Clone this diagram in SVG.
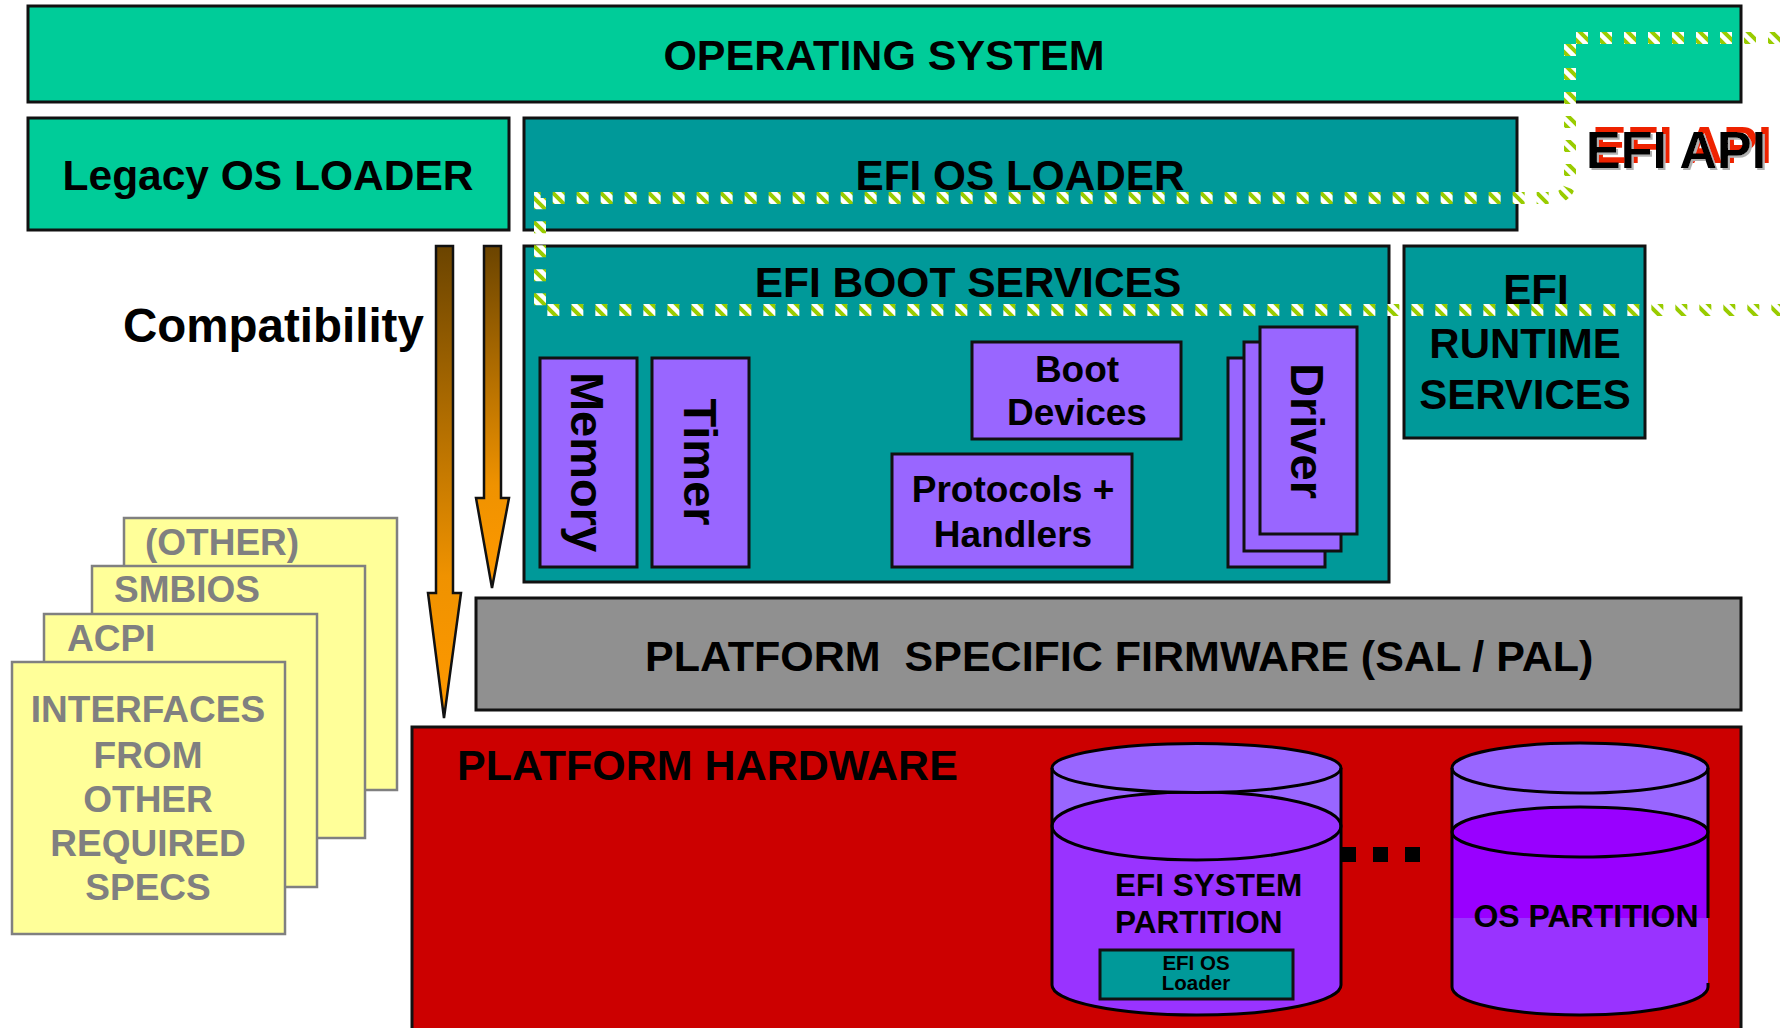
<svg xmlns="http://www.w3.org/2000/svg" width="1780" height="1028" viewBox="0 0 1780 1028">
<defs>
<style>
.t{font-family:"Liberation Sans",Arial,sans-serif;font-weight:bold;fill:#000}
.box{stroke:#111;stroke-width:3}
.green{fill:#00cc99}
.teal{fill:#009999}
.purple{fill:#9966ff}
.yel{fill:#ffff99;stroke:#808080;stroke-width:2.5}
.yt{font-family:"Liberation Sans",Arial,sans-serif;font-weight:bold;fill:#808080;font-size:37px}
.arrow{stroke:#111;stroke-width:2.5}
.cyl{stroke:#000;stroke-width:3}
</style>
<linearGradient id="arrGrad" x1="0" y1="0" x2="0" y2="1">
<stop offset="0" stop-color="#6b4400"/>
<stop offset="0.7" stop-color="#ef9200"/>
<stop offset="1" stop-color="#ff9900"/>
</linearGradient>
<pattern id="stripe" patternUnits="userSpaceOnUse" width="12" height="12">
<rect width="12" height="12" fill="#ffffff"/>
<path d="M0,0 L12,12 M-6,6 L6,18 M6,-6 L18,6" stroke="#99cc00" stroke-width="4"/>
</pattern>
<filter id="apiShadow" x="-10%" y="-40%" width="130%" height="180%">
<feFlood flood-color="#ee2200"/>
<feComposite in2="SourceAlpha" operator="in"/>
<feOffset dx="6" dy="-5" result="red"/>
<feFlood flood-color="#b0b0b0"/>
<feComposite in2="SourceAlpha" operator="in"/>
<feOffset dx="2" dy="2" result="gray"/>
<feMerge><feMergeNode in="red"/><feMergeNode in="gray"/><feMergeNode in="SourceGraphic"/></feMerge>
</filter>
</defs>
<rect width="1780" height="1028" fill="#ffffff"/>

<g id="operating-system">
<rect class="box green" x="28" y="6" width="1713" height="96"/>
<text class="t" x="884" y="70" font-size="43" text-anchor="middle">OPERATING SYSTEM</text>
</g>

<g id="legacy-os-loader">
<rect class="box green" x="28" y="118" width="481" height="112"/>
<text class="t" x="268" y="190" font-size="42.5" text-anchor="middle">Legacy OS LOADER</text>
</g>

<g id="efi-os-loader">
<rect class="box teal" x="524" y="118" width="993" height="112"/>
<text class="t" x="1020" y="190" font-size="42.3" text-anchor="middle">EFI OS LOADER</text>
</g>

<g id="efi-boot-services">
<rect class="box teal" x="524" y="246" width="865" height="336"/>
<text class="t" x="968" y="297" font-size="42.5" text-anchor="middle">EFI BOOT SERVICES</text>
</g>

<g id="memory">
<rect class="box purple" x="540" y="358" width="97" height="209"/>
<text class="t" font-size="47" text-anchor="middle" transform="translate(571,462) rotate(90)">Memory</text>
</g>

<g id="timer">
<rect class="box purple" x="652" y="358" width="97" height="209"/>
<text class="t" font-size="47" text-anchor="middle" transform="translate(684,462) rotate(90)">Timer</text>
</g>

<g id="boot-devices">
<rect class="box purple" x="972" y="342" width="209" height="97"/>
<text class="t" font-size="37" text-anchor="middle"><tspan x="1077" y="382">Boot</tspan><tspan x="1077" y="425">Devices</tspan></text>
</g>

<g id="protocols-handlers">
<rect class="box purple" x="892" y="454" width="240" height="113"/>
<text class="t" font-size="37" text-anchor="middle"><tspan x="1013" y="502">Protocols +</tspan><tspan x="1013" y="547">Handlers</tspan></text>
</g>

<g id="driver">
<rect class="box purple" x="1228" y="358" width="97" height="209"/>
<rect class="box purple" x="1244" y="342" width="97" height="209"/>
<rect class="box purple" x="1260" y="327" width="97" height="207"/>
<text class="t" font-size="47" text-anchor="middle" transform="translate(1291,431) rotate(90)">Driver</text>
</g>

<g id="efi-runtime-services">
<rect class="box teal" x="1404" y="246" width="241" height="192"/>
<text class="t" font-size="42" text-anchor="middle"><tspan x="1536" y="304">EFI</tspan><tspan x="1525" y="358">RUNTIME</tspan><tspan x="1525" y="409">SERVICES</tspan></text>
</g>

<g id="platform-firmware">
<rect class="box" fill="#909090" x="476" y="598" width="1265" height="112"/>
<text class="t" x="645" y="671" font-size="43">PLATFORM &#160;SPECIFIC FIRMWARE (SAL / PAL)</text>
</g>

<g id="platform-hardware">
<rect class="box" fill="#cc0000" x="412" y="727" width="1329" height="320"/>
<text class="t" x="457" y="780" font-size="43">PLATFORM HARDWARE</text>
</g>

<g id="efi-system-partition">
<path d="M1052,768 L1052,985 A144.5,30 0 0 0 1341,985 L1341,768 Z" fill="#9966ff"/>
<path d="M1052,826 L1052,985 A144.5,30 0 0 0 1341,985 L1341,826 Z" fill="#9933ff"/>
<ellipse class="cyl" cx="1196.5" cy="826" rx="144.5" ry="34" fill="#9933ff"/>
<ellipse class="cyl" cx="1196.5" cy="768" rx="144.5" ry="24.5" fill="#9966ff"/>
<path class="cyl" d="M1052,768 L1052,985 A144.5,30 0 0 0 1341,985 L1341,768" fill="none"/>
<text class="t" font-size="31.5"><tspan x="1115" y="896">EFI SYSTEM</tspan><tspan x="1115" y="933">PARTITION</tspan></text>
<rect class="box teal" x="1100" y="950" width="193" height="49"/>
<text class="t" font-size="20.5" text-anchor="middle"><tspan x="1196" y="970">EFI OS</tspan><tspan x="1196" y="990">Loader</tspan></text>
</g>

<g id="ellipsis-dots" fill="#000">
<rect x="1341" y="847" width="15" height="15"/>
<rect x="1373" y="847" width="15" height="15"/>
<rect x="1405" y="847" width="15" height="15"/>
</g>

<g id="os-partition">
<path d="M1452,768 L1452,918 L1708,918 L1708,768 Z" fill="#9966ff"/>
<path d="M1452,832 L1452,918 L1708,918 L1708,832 Z" fill="#9900ff"/>
<path d="M1452,918 L1452,987 A128,28 0 0 0 1708,987 L1708,918 Z" fill="#9933ff"/>
<ellipse class="cyl" cx="1580" cy="832" rx="128" ry="25" fill="#9900ff"/>
<ellipse class="cyl" cx="1580" cy="768" rx="128" ry="25" fill="#9966ff"/>
<path class="cyl" d="M1708,918 L1708,768 M1452,768 L1452,987 A128,28 0 0 0 1708,987 L1708,983" fill="none"/>
<text class="t" x="1586" y="927" font-size="32" text-anchor="middle">OS PARTITION</text>
</g>

<g id="spec-cards">
<rect class="yel" x="124" y="518" width="273" height="272"/>
<text class="yt" x="145" y="555">(OTHER)</text>
<rect class="yel" x="92" y="566" width="273" height="272"/>
<text class="yt" x="114" y="602">SMBIOS</text>
<rect class="yel" x="44" y="614" width="273" height="273"/>
<text class="yt" x="67" y="651">ACPI</text>
<rect class="yel" x="12" y="662" width="273" height="272"/>
<text class="yt" text-anchor="middle"><tspan x="148" y="722">INTERFACES</tspan><tspan x="148" y="768">FROM</tspan><tspan x="148" y="812">OTHER</tspan><tspan x="148" y="856">REQUIRED</tspan><tspan x="148" y="900">SPECS</tspan></text>
</g>

<g id="compatibility">
<text class="t" x="123" y="342" font-size="47.5">Compatibility</text>
</g>

<g id="connectors">
<polygon class="arrow" fill="url(#arrGrad)" points="436,246 453,246 453,593 461,593 444,718 428,593 436,593"/>
<polygon class="arrow" fill="url(#arrGrad)" points="484,246 501,246 501,498 509,498 492,588 476,498 484,498"/>
<path d="M1780,38 L1570,38 L1570,180 Q1570,198 1550,198 L540,198 L540,310 L1780,310" fill="none" stroke="url(#stripe)" stroke-width="12" stroke-dasharray="12 12"/>
</g>

<g id="efi-api-label">
<text class="t" x="1586" y="168" font-size="52" filter="url(#apiShadow)">EFI API</text>
</g>
</svg>
